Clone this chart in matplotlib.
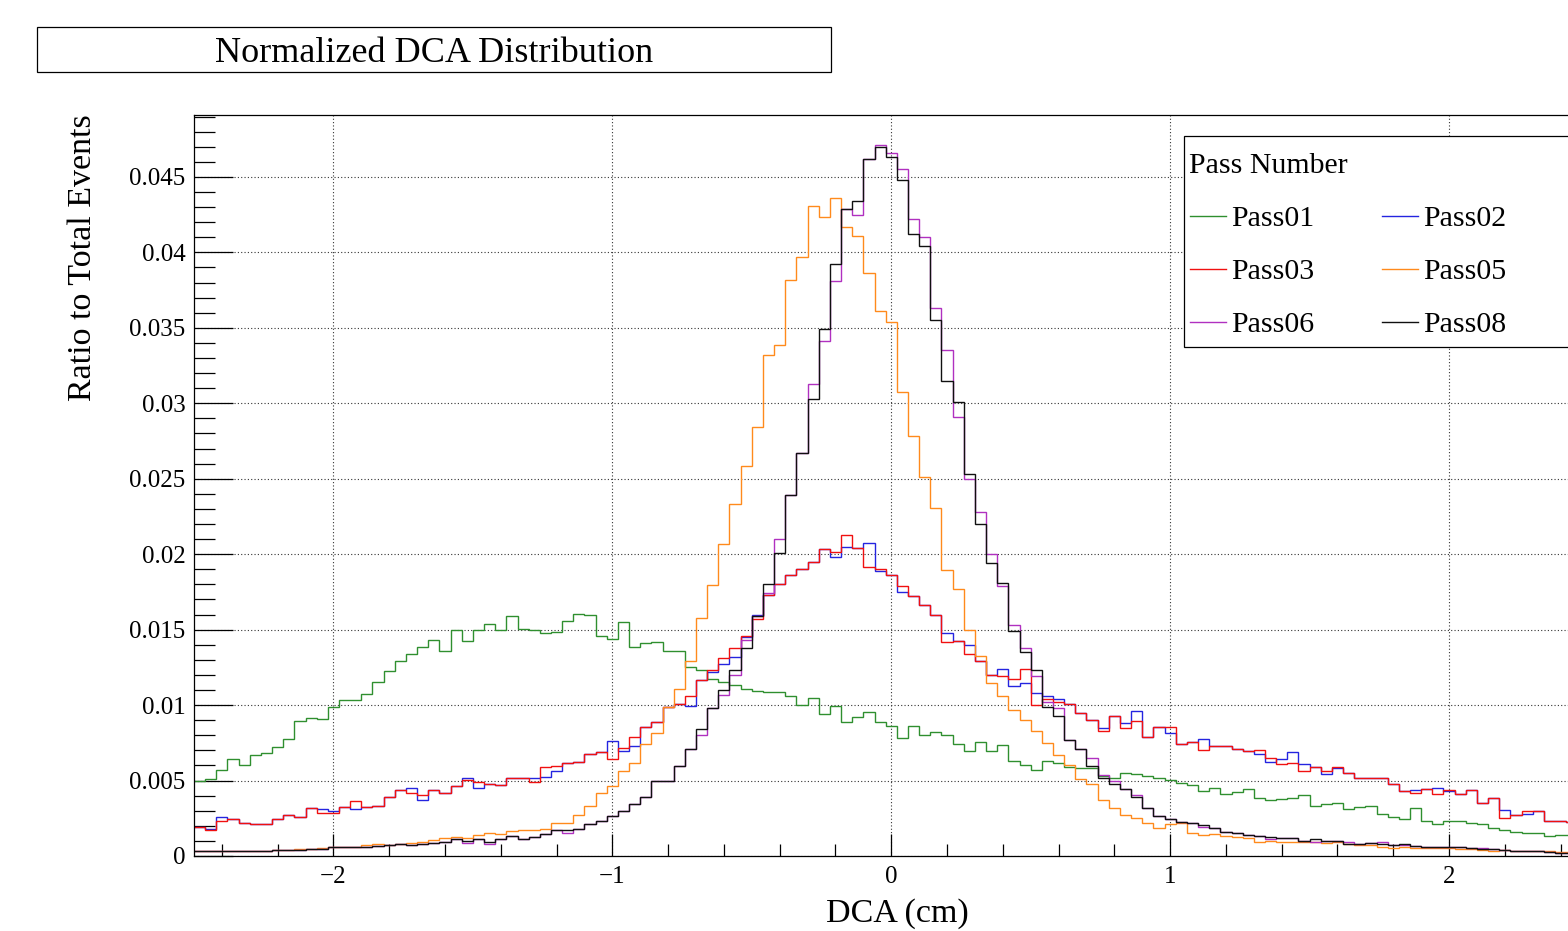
import numpy as np
import matplotlib
matplotlib.use('Agg')
import matplotlib.pyplot as plt
from matplotlib.patches import Rectangle
from matplotlib.lines import Line2D
from matplotlib.ticker import MultipleLocator, FuncFormatter

plt.rcParams['font.family'] = ['Liberation Serif', 'DejaVu Serif']

# histogram binning: 125 bins from -2.5 to 2.5 cm
edges = np.linspace(-2.5, 2.5, 126)

# bin contents, in units of 1e-3 (ratio to total events)
pass01 = [5.0, 5.1, 5.7, 6.45, 6.05, 6.7, 6.8, 7.25, 7.75, 8.95,
          9.15, 9.05, 9.9, 10.35, 10.35, 10.75, 11.55, 12.25, 12.9, 13.4,
          13.85, 14.3, 13.6, 15.0, 14.25, 15.0, 15.4, 14.95, 15.9, 15.05,
          15.0, 14.8, 14.85, 15.6, 16.05, 15.95, 14.6, 14.4, 15.5, 13.87,
          14.1, 14.2, 13.6, 13.6, 12.55, 12.3, 11.7, 11.55, 11.3, 11.05,
          10.95, 10.85, 10.85, 10.63, 10.0, 10.47, 9.4, 9.92, 8.87, 9.18,
          9.55, 8.87, 8.62, 7.85, 8.62, 8.0, 8.22, 8.0, 7.39, 6.93,
          7.55, 6.93, 7.35, 6.28, 6.05, 5.7, 6.3, 6.14, 5.92, 5.81,
          5.81, 5.3, 5.2, 5.52, 5.43, 5.3, 5.2, 5.02, 4.87, 4.72,
          4.3, 4.48, 4.1, 4.26, 4.42, 3.85, 3.7, 3.8, 3.85, 4.05,
          3.3, 3.47, 3.5, 3.12, 3.23, 3.34, 2.8, 2.6, 2.45, 3.2,
          2.32, 2.1, 2.32, 2.3, 2.2, 2.15, 1.88, 1.72, 1.57, 1.5,
          1.5, 1.35, 1.42, 1.4, 1.4]

pass02 = [1.9, 1.8, 2.56, 2.43, 2.16, 2.12, 2.12, 2.43, 2.71, 2.6,
          3.15, 3.11, 3.0, 3.27, 3.1, 3.27, 3.33, 3.88, 4.37, 4.48,
          3.7, 4.37, 4.15, 4.63, 5.2, 4.48, 4.76, 4.7, 5.2, 5.14,
          5.14, 5.25, 5.65, 6.14, 6.24, 6.76, 6.86, 7.6, 6.93, 7.3,
          8.54, 8.88, 9.89, 10.09, 9.97, 11.67, 12.2, 12.7, 13.2, 14.5,
          15.95, 17.3, 18.05, 18.6, 19.05, 19.5, 20.35, 19.8, 20.45, 20.4,
          20.75, 18.9, 18.6, 17.5, 17.2, 16.6, 15.95, 14.8, 14.25, 14.0,
          12.9, 12.0, 12.37, 11.27, 11.49, 10.78, 10.6, 10.4, 10.1, 9.5,
          9.0, 8.45, 9.3, 8.8, 9.6, 7.9, 8.57, 8.17, 7.42, 7.58,
          7.76, 7.29, 7.3, 7.1, 6.95, 6.78, 6.25, 6.45, 6.9, 6.1,
          5.9, 5.45, 5.8, 5.5, 5.2, 5.2, 5.15, 4.8, 4.3, 4.4,
          4.45, 4.5, 4.3, 4.1, 4.35, 3.52, 3.85, 3.05, 2.7, 2.8,
          3.0, 2.3, 2.3, 2.25, 2.2]

pass03 = [1.9, 1.7, 2.34, 2.43, 2.16, 2.12, 2.12, 2.43, 2.71, 2.6,
          3.15, 2.82, 2.85, 3.27, 3.66, 3.27, 3.33, 3.88, 4.37, 4.15,
          4.04, 4.37, 4.15, 4.63, 5.03, 4.92, 4.76, 4.7, 5.2, 5.14,
          4.9, 5.88, 5.97, 6.14, 6.24, 6.76, 6.86, 6.45, 7.16, 7.87,
          8.54, 8.88, 9.89, 10.09, 10.6, 11.67, 12.35, 13.1, 13.8, 14.6,
          15.7, 17.3, 18.05, 18.6, 19.05, 19.5, 20.35, 20.15, 21.27, 20.4,
          19.15, 19.05, 18.6, 17.9, 17.2, 16.6, 15.95, 14.15, 14.25, 13.4,
          12.9, 12.0, 11.95, 11.72, 12.4, 10.0, 10.4, 10.2, 10.1, 9.5,
          9.0, 8.3, 9.3, 8.5, 8.95, 7.9, 8.57, 8.55, 7.42, 7.58,
          7.0, 7.29, 7.3, 7.1, 6.95, 7.02, 6.5, 6.12, 6.14, 5.6,
          5.9, 5.6, 5.9, 5.5, 5.2, 5.2, 5.15, 4.8, 4.3, 4.2,
          4.45, 4.1, 4.35, 4.1, 4.35, 3.52, 3.85, 2.5, 2.7, 2.95,
          3.0, 2.3, 2.3, 2.25, 2.2]

pass05 = [0.3, 0.35, 0.3, 0.35, 0.3, 0.35, 0.35, 0.4, 0.4, 0.45,
          0.45, 0.5, 0.62, 0.6, 0.6, 0.7, 0.8, 0.72, 0.8, 0.85,
          0.9, 1.05, 1.2, 1.25, 1.2, 1.4, 1.5, 1.45, 1.65, 1.75,
          1.7, 1.8, 2.2, 2.2, 2.7, 3.3, 4.2, 4.65, 5.66, 6.15,
          7.44, 8.16, 9.89, 11.04, 12.9, 15.78, 17.93, 20.66, 23.3, 25.84,
          28.4, 33.2, 33.87, 38.15, 39.7, 43.04, 42.33, 43.6, 41.65, 41.09,
          38.63, 36.08, 35.38, 30.75, 27.8, 25.13, 23.07, 18.96, 17.72, 14.95,
          13.25, 11.46, 10.63, 9.7, 9.0, 8.3, 7.5, 6.7, 6.0, 5.1,
          4.8, 3.7, 3.2, 2.7, 2.5, 2.2, 1.85, 2.1, 2.2, 1.5,
          1.4, 1.45, 1.35, 1.25, 1.2, 0.9, 1.0, 0.95, 0.95, 0.9,
          0.95, 0.85, 0.9, 0.8, 0.75, 0.7, 0.62, 0.55, 0.6, 0.55,
          0.5, 0.55, 0.5, 0.45, 0.45, 0.4, 0.35, 0.4, 0.35, 0.3,
          0.3, 0.3, 0.28, 0.25, 0.25]

pass06 = [0.3, 0.3, 0.35, 0.3, 0.32, 0.3, 0.35, 0.4, 0.38, 0.42,
          0.45, 0.48, 0.62, 0.6, 0.62, 0.6, 0.68, 0.72, 0.78, 0.72,
          0.8, 0.88, 0.9, 1.15, 0.85, 1.15, 0.8, 1.15, 1.3, 1.1,
          1.26, 1.47, 1.7, 1.5, 1.8, 2.1, 2.35, 2.65, 3.0, 3.45,
          3.9, 5.0, 5.0, 5.95, 7.1, 8.0, 9.8, 10.7, 12.0, 14.3,
          15.9, 17.4, 21.0, 23.9, 26.7, 31.3, 34.1, 38.1, 42.9, 42.5,
          46.2, 47.1, 46.6, 45.5, 42.2, 41.0, 36.3, 33.5, 29.1, 25.0,
          22.8, 20.0, 17.9, 15.3, 13.8, 11.9, 10.2, 9.8, 7.7, 7.1,
          6.5, 5.4, 5.0, 4.42, 4.05, 3.16, 2.65, 2.43, 2.28, 2.17,
          1.9, 1.83, 1.61, 1.5, 1.39, 1.33, 1.1, 1.17, 1.2, 1.0,
          0.95, 1.0, 0.98, 0.9, 0.8, 0.88, 0.9, 0.75, 0.7, 0.68,
          0.62, 0.58, 0.62, 0.62, 0.5, 0.5, 0.45, 0.4, 0.35, 0.3,
          0.3, 0.25, 0.22, 0.2, 0.2]

pass08 = [0.3, 0.3, 0.35, 0.3, 0.32, 0.3, 0.35, 0.4, 0.38, 0.42,
          0.45, 0.48, 0.62, 0.6, 0.62, 0.6, 0.68, 0.72, 0.78, 0.72,
          0.8, 0.88, 0.9, 1.15, 1.0, 1.15, 0.95, 1.15, 1.3, 1.1,
          1.26, 1.47, 1.7, 1.7, 1.8, 2.1, 2.35, 2.65, 3.0, 3.45,
          3.9, 5.0, 5.0, 5.95, 7.1, 8.4, 9.8, 11.0, 12.3, 13.8,
          15.9, 18.0, 20.1, 23.9, 26.7, 30.3, 34.9, 39.2, 42.9, 43.4,
          46.2, 47.0, 46.35, 44.8, 41.2, 40.4, 35.5, 31.5, 30.1, 25.3,
          22.0, 19.4, 18.1, 14.9, 13.5, 12.3, 9.9, 9.3, 7.7, 7.1,
          5.96, 5.15, 4.8, 4.42, 3.9, 3.16, 2.65, 2.43, 2.28, 2.17,
          2.05, 1.83, 1.61, 1.5, 1.39, 1.33, 1.28, 1.17, 1.2, 1.0,
          1.1, 1.0, 0.98, 0.8, 0.8, 0.88, 0.8, 0.75, 0.8, 0.68,
          0.62, 0.58, 0.58, 0.62, 0.5, 0.45, 0.45, 0.4, 0.35, 0.3,
          0.3, 0.25, 0.22, 0.2, 0.2]

labels = ['Pass01', 'Pass02', 'Pass03', 'Pass05', 'Pass06', 'Pass08']
series = [pass01, pass02, pass03, pass05, pass06, pass08]
colors = ['#2f8f2f', '#2424e0', '#f01010', '#ff8a1c', '#b030c0', '#101010']

W, H = 1568, 931
fig = plt.figure(figsize=(W / 100, H / 100), dpi=100)
fig.patch.set_facecolor('white')


def fx(x):
    return x / W


def fy(y):
    return 1 - y / H


# frame: left 194 px, top 115 px, bottom 856 px; right edge runs past the image
ax = fig.add_axes([fx(194), fy(856), (1588.5 - 194) / W, (856 - 115) / H])

for vals, col in zip(series, colors):
    ax.stairs(np.array(vals) * 1e-3, edges, baseline=None, color=col, lw=1.0)

ax.set_xlim(-2.5, 2.5)
ax.set_ylim(0, 0.0491)

ax.xaxis.set_major_locator(MultipleLocator(1))
ax.xaxis.set_minor_locator(MultipleLocator(0.2))
ax.yaxis.set_major_locator(MultipleLocator(0.005))
ax.yaxis.set_minor_locator(MultipleLocator(0.001))
ax.yaxis.set_major_formatter(FuncFormatter(lambda v, p: '0' if abs(v) < 1e-9 else '%g' % v))

ax.tick_params(axis='both', which='both', direction='in', top=False, right=False,
               labelsize=18, width=0.9, color='black')
ax.tick_params(axis='y', which='major', length=28, pad=6)
ax.tick_params(axis='y', which='minor', length=15)
ax.tick_params(axis='x', which='major', length=16, pad=7)
ax.tick_params(axis='x', which='minor', length=8.5)

ax.grid(True, which='major', linestyle=(0, (1, 2)), color='#333333', linewidth=0.8)
ax.set_axisbelow(True)
for sp in ax.spines.values():
    sp.set_linewidth(0.9)

# axis titles
fig.text(fx(897), fy(914), 'DCA (cm)', ha='center', va='center', fontsize=24.5)
fig.text(fx(83), fy(114), 'Ratio to Total Events', rotation=90,
         ha='center', va='top', fontsize=24.5)

# title box
fig.add_artist(Rectangle((fx(37), fy(72)), fx(831 - 37), (72 - 27) / H,
                         transform=fig.transFigure, facecolor='white',
                         edgecolor='black', lw=0.9, zorder=5))
fig.text(fx(434), fy(53), 'Normalized DCA Distribution', ha='center',
         va='center', fontsize=26, zorder=6)

# legend box (right side is cut off by the image edge)
fig.add_artist(Rectangle((fx(1184), fy(347)), fx(1700 - 1184), (347 - 136) / H,
                         transform=fig.transFigure, facecolor='white',
                         edgecolor='black', lw=0.9, zorder=5))
fig.text(fx(1189), fy(166), 'Pass Number', ha='left', va='center',
         fontsize=21.5, zorder=6)

col_x = [1190, 1382]
row_y = [216, 269, 322]
for i, (lab, col) in enumerate(zip(labels, colors)):
    r, c = divmod(i, 2)
    x0 = col_x[c]
    y0 = row_y[r]
    fig.add_artist(Line2D([fx(x0), fx(x0 + 36)], [fy(y0), fy(y0)],
                          transform=fig.transFigure, color=col, lw=1.0, zorder=6))
    fig.text(fx(x0 + 41), fy(y0 + 3), lab, ha='left', va='center',
             fontsize=21.5, zorder=6)

fig.savefig('out.png', dpi=100)
